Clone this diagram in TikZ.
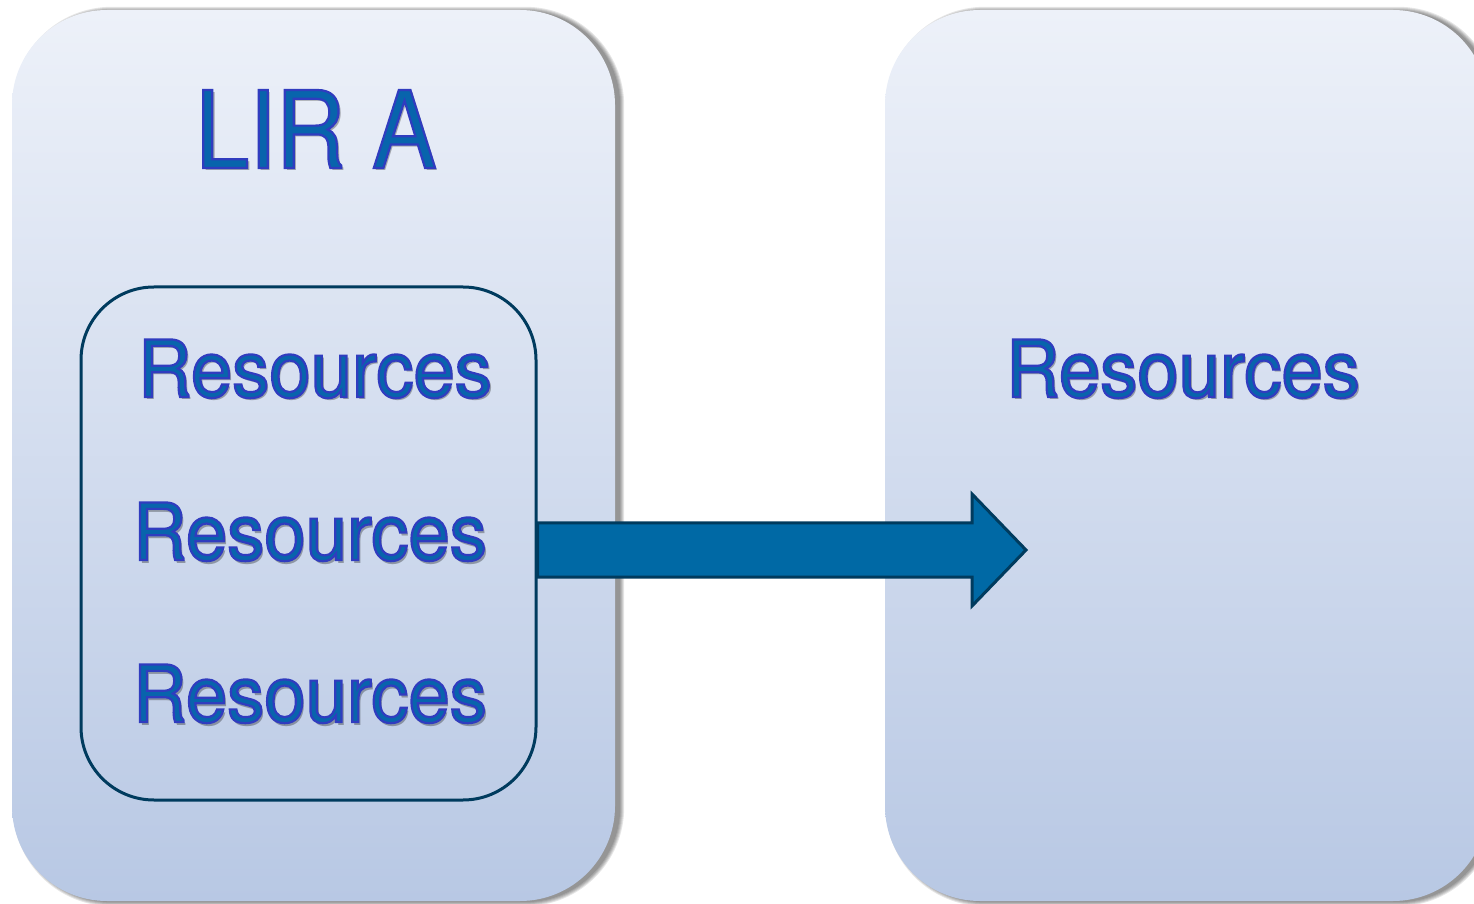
\documentclass[tikz,border=0pt]{standalone}
\usepackage{fontspec}
\usetikzlibrary{calc,backgrounds}
\newfontfamily\lirfont[FakeStretch=0.90]{TeX Gyre Heros}
\newfontfamily\resfont[FakeStretch=0.94]{TeX Gyre Heros}
\definecolor{boxtop}{RGB}{237,241,249}
\definecolor{boxbot}{RGB}{184,200,228}
\definecolor{linedark}{RGB}{0,59,94}
\definecolor{arrowfill}{RGB}{0,105,165}
\definecolor{textfill}{RGB}{8,100,172}
% outlined text: fill textfill, stroke (48,60,192)
\newcommand\outl[1]{\textcolor{textfill}{\special{pdf:literal 0.19 0.235 0.75 RG 2 Tr 2.2 w}#1\special{pdf:literal 0 Tr}}}
\tikzset{
  bigbox/.style={rectangle, rounded corners=95pt, minimum width=603pt, minimum height=891pt,
    inner sep=0pt, top color=boxtop, bottom color=boxbot, draw=none},
  innerbox/.style={rectangle, rounded corners=73pt, minimum width=455pt, minimum height=513pt,
    inner sep=0pt, draw=linedark, line width=3pt},
  bigarrow/.style={fill=arrowfill, draw=linedark, line width=3pt, line join=miter},
  lirtxt/.style={inner sep=0pt, anchor=base, font=\lirfont\fontsize{107}{107}\selectfont},
  restxt/.style={inner sep=0pt, anchor=base, font=\resfont\fontsize{79}{79}\selectfont},
  txtshadow/.style={text=black, opacity=0.3},
}
\begin{document}
\begin{tikzpicture}[x=1pt,y=1pt]
\useasboundingbox (0,0) rectangle (1474,903);
% big panels
\node[bigbox] (left) at (313.5,447.5) {};
\node[bigbox] (right) at (1186.5,447.5) {};
% panel shadows
\begin{scope}[on background layer]
\foreach \b in {left,right}{
  \foreach \i in {0,1,2,3,4}{
    \fill[black, opacity=0.1, rounded corners=95pt+\i pt]
      ($(\b.south west)+(5-\i,-1-\i)$) rectangle ($(\b.north east)+(5+\i,-1+\i)$);
  }
}
\end{scope}
% inner box
\node[innerbox] (inner) at (308.5,359.5) {};
% arrow
\coordinate (tip) at (1026,353);
\coordinate (back) at (972,353);
\draw[bigarrow] ($(inner.east|-tip)+(0,27)$) -- ($(back)+(0,27)$) -- ($(back)+(0,56)$) -- (tip)
  -- ($(back)+(0,-56)$) -- ($(back)+(0,-27)$) -- ($(inner.east|-tip)+(0,-27)$) -- cycle;
% text shadows
\node[lirtxt, txtshadow] at (318.5,732) {LIR A};
\node[restxt, txtshadow] at (317.5,503) {Resources};
\node[restxt, txtshadow] at (312.5,340) {Resources};
\node[restxt, txtshadow] at (312.5,178) {Resources};
\node[restxt, txtshadow] at (1185.5,503) {Resources};
% texts
\node[lirtxt] (lir) at (316,735) {\outl{LIR A}};
\node[restxt] (r1) at (315,506) {\outl{Resources}};
\node[restxt] (r2) at (310,343) {\outl{Resources}};
\node[restxt] (r3) at (310,181) {\outl{Resources}};
\node[restxt] (r4) at (1183,506) {\outl{Resources}};
\end{tikzpicture}
\end{document}
